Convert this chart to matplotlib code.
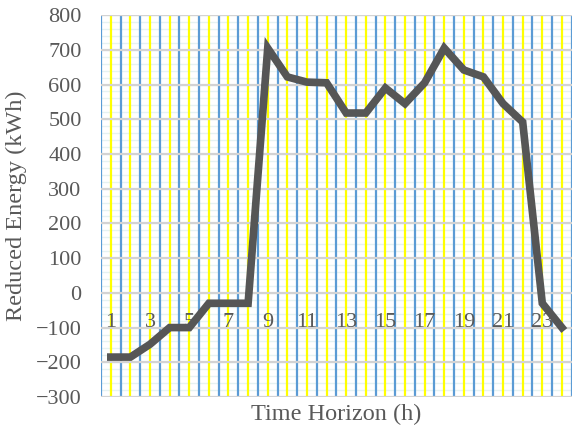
import matplotlib
matplotlib.use("Agg")
import matplotlib.pyplot as plt
import matplotlib.transforms as mtransforms

# hours and reduced energy (kWh)
hours = list(range(1, 25))
reduced_energy = [-185, -185, -148, -100, -100, -30, -30, -30,
                  705, 622, 607, 605, 518, 518, 590, 545,
                  605, 705, 642, 622, 545, 492, -30, -100]
hour_labels = [str(h) if h % 2 == 1 else "" for h in hours]
y_ticks = list(range(-300, 801, 100))
y_minor = list(range(-300, 801, 20))

plt.rcParams['font.family'] = ['Liberation Serif', 'DejaVu Serif']
text_color = '#595959'

fig = plt.figure(figsize=(5.74, 4.32), dpi=100)
ax = fig.add_axes([0.176, 0.081, 0.82, 0.884])

ax.set_xlim(0.5, 24.5)
ax.set_ylim(-300, 800)

# horizontal grid: light minor lines below, grey major lines
for v in y_minor:
    ax.axhline(v, color='#e6f2f2', linewidth=1.0, zorder=0.2)

# vertical grid: blue at category edges, yellow at category centres
for h in hours:
    ax.axvline(h - 0.5, color='#5b9bd5', linewidth=1.6, zorder=1)
    ax.axvline(h, color='#ffff00', linewidth=1.6, zorder=1)
ax.axvline(24.5, color='#5b9bd5', linewidth=1.6, zorder=1)

for v in y_ticks:
    ax.axhline(v, color='#d3d3d3', linewidth=1.6, zorder=1.2)

ax.plot(hours, reduced_energy, color='#565656', linewidth=5.5,
        solid_joinstyle='miter', zorder=3)

for s in ax.spines.values():
    s.set_visible(False)

ax.set_yticks(y_ticks)
ax.tick_params(axis='y', which='both', length=0, pad=14,
               labelsize=16, labelcolor=text_color)
ax.set_xticks([])

# category labels sit just below the zero line
trans = mtransforms.blended_transform_factory(ax.transData, ax.transData)
offset = mtransforms.ScaledTranslation(0, -20 / 100, fig.dpi_scale_trans)
for h, lab in zip(hours, hour_labels):
    if lab:
        ax.text(h, 0, lab, transform=trans + offset, ha='center', va='top',
                fontsize=16, color=text_color, zorder=2)

ax.set_ylabel("Reduced Energy (kWh)", fontsize=17.5, color=text_color, labelpad=6)
ax.set_xlabel("Time Horizon (h)", fontsize=17.5, color=text_color, labelpad=5)

fig.savefig("out.png", dpi=100)
